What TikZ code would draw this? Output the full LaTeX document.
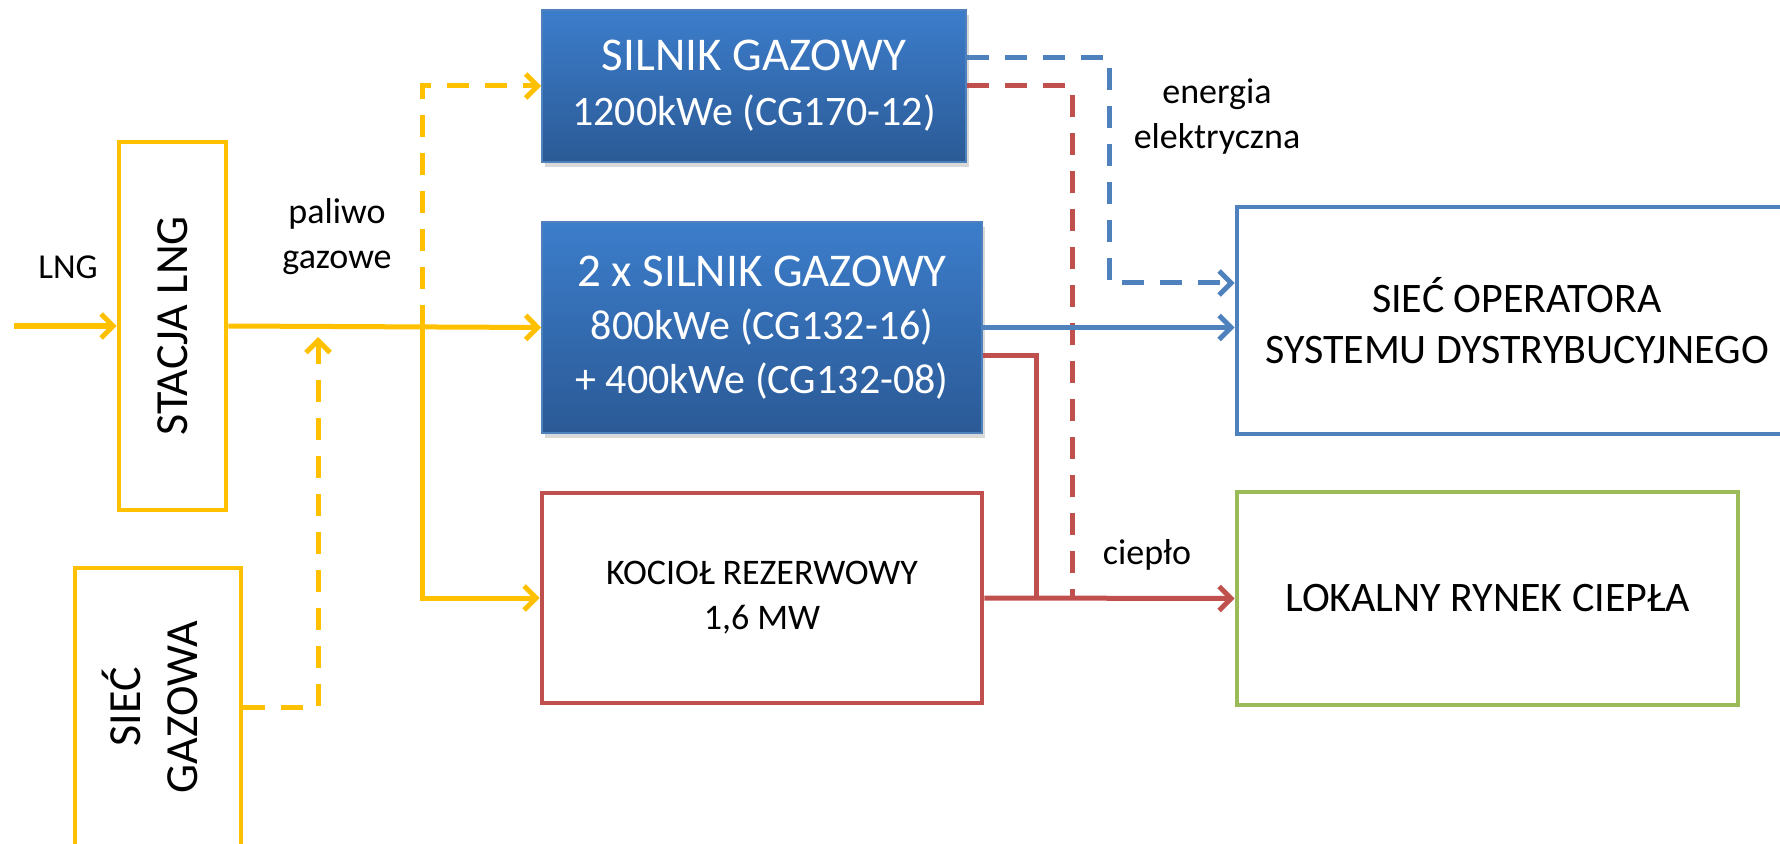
\documentclass[tikz,border=0pt]{standalone}
\usepackage{fontspec}
\setmainfont{Carlito}
\usetikzlibrary{arrows.meta,shadows}
\definecolor{lngyellow}{HTML}{FFC000}
\definecolor{heatred}{HTML}{C0504D}
\definecolor{elblue}{HTML}{4F81BD}
\definecolor{mktgreen}{HTML}{9BBB59}
\definecolor{engtop}{HTML}{3C7DCB}
\definecolor{engbot}{HTML}{2B5A96}
\tikzset{
  bluebox/.style={draw=elblue,line width=0.8pt,top color=engtop,bottom color=engbot,text=white,align=center,inner sep=0pt,
    drop shadow={shadow xshift=1.5pt,shadow yshift=-2.5pt,opacity=0.3}},
  linebox/.style={draw,line width=2.4pt,fill=white,align=center,inner sep=0pt},
  lbl/.style={align=center,inner sep=0pt,font=\fontsize{18pt}{22.5pt}\selectfont},
  yarr/.style={-{Straight Barb[length=6pt,width=12pt]},draw=lngyellow,line width=2.5pt},
  ydash/.style={-{Straight Barb[length=6pt,width=12pt]},draw=lngyellow,line width=2.5pt,dash pattern=on 11pt off 8pt},
  barr/.style={-{Straight Barb[length=6pt,width=12pt]},draw=elblue,line width=2.5pt},
  bdash/.style={-{Straight Barb[length=6pt,width=12pt]},draw=elblue,line width=2.5pt,dash pattern=on 11pt off 8pt},
  rline/.style={draw=heatred,line width=2.5pt},
  rarr/.style={-{Straight Barb[length=6pt,width=12pt]},draw=heatred,line width=2.5pt},
  rdash/.style={draw=heatred,line width=2.5pt,dash pattern=on 11pt off 8pt},
}
\begin{document}
\begin{tikzpicture}[x=0.5pt,y=-0.5pt]
\useasboundingbox (0,0) rectangle (1780,844);
% boxes
\node[linebox,draw=lngyellow,minimum width=53.5pt,minimum height=184pt] (stacja) at (172.5,326)
  {\rotatebox{90}{\fontsize{23pt}{28.5pt}\selectfont STACJA LNG}};
\node[linebox,draw=lngyellow,minimum width=83pt,minimum height=139pt] (siecgaz) at (158,707)
  {\rotatebox{90}{\fontsize{23pt}{28.5pt}\selectfont\begin{tabular}{@{}c@{}}SIEĆ\\GAZOWA\end{tabular}}};
\node[bluebox,minimum width=212pt,minimum height=76pt,font=\fontsize{21pt}{27.5pt}\selectfont] (silnik1) at (754,86)
  {{\fontsize{23.5pt}{27.5pt}\selectfont SILNIK GAZOWY}\\1200kWe (CG170-12)};
\node[bluebox,minimum width=220pt,minimum height=105.5pt,font=\fontsize{21pt}{26.8pt}\selectfont] (silnik2) at (762,327.5)
  {{\fontsize{23.5pt}{26.8pt}\selectfont 2 x SILNIK GAZOWY}\\800kWe (CG132-16)\\+ 400kWe (CG132-08)};
\node[linebox,draw=heatred,minimum width=220pt,minimum height=105pt,font=\fontsize{18pt}{22.5pt}\selectfont] (kociol) at (762,598)
  {KOCIOŁ REZERWOWY\\1,6 MW};
\node[linebox,draw=elblue,minimum width=280pt,minimum height=113.5pt,font=\fontsize{21pt}{25.5pt}\selectfont] (siecop) at (1517,320.5)
  {SIEĆ OPERATORA\\SYSTEMU DYSTRYBUCYJNEGO};
\node[linebox,draw=mktgreen,minimum width=250.5pt,minimum height=106.5pt,font=\fontsize{21pt}{25.5pt}\selectfont] (lokalny) at (1487.5,598.5)
  {LOKALNY RYNEK CIEPŁA};
% labels
\node[lbl,font=\fontsize{17.5pt}{21pt}\selectfont] (lnglbl) at (68,267) {LNG};
\node[lbl] (fuellbl) at (337,237) {paliwo\\gazowe};
\node[lbl] (ellbl) at (1217,117) {energia\\elektryczna};
\node[lbl] (heatlbl) at (1147,555) {ciepło};
% connectors
\coordinate (lngin) at (14,326);
\coordinate (split) at (422,327);
\coordinate (feed) at (318,337);
\coordinate (elbend) at (1109,58);
\coordinate (heatbend) at (1036,355);
\coordinate (hotdash) at (1072,598);
\draw[yarr] (lngin) -- (stacja.west);
\draw[yarr] (stacja.east) -- (silnik2.west);
\draw[ydash] (split) |- (silnik1.west);
\draw[yarr] (split) |- (kociol.west);
\draw[ydash] (siecgaz.east) -| (feed);
\draw[rdash] (silnik1.east) -| (hotdash);
\draw[bdash] (silnik1.east |- elbend) -- (elbend) |- ([yshift=18.75pt]siecop.west);
\draw[barr] (silnik2.east) -- (silnik2.east -| siecop.west);
\draw[rline] (silnik2.east |- heatbend) -| (heatbend |- kociol.east);
\draw[rarr] (kociol.east) -- (lokalny.west);
\end{tikzpicture}
\end{document}
